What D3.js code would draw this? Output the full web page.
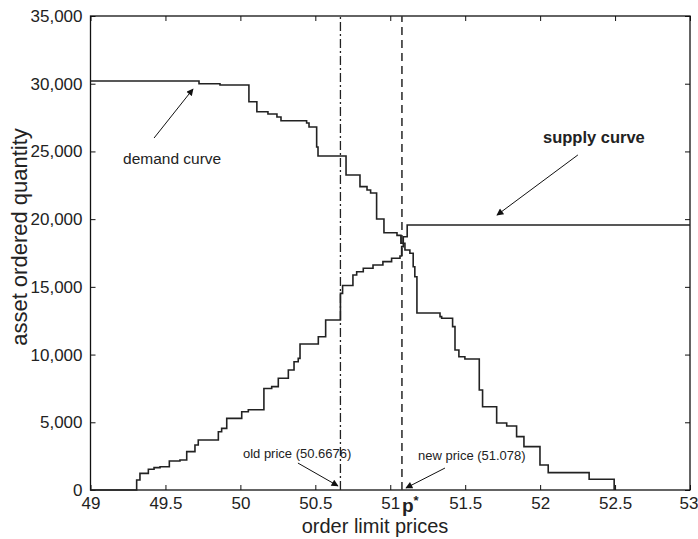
<!DOCTYPE html>
<html>
<head>
<meta charset="utf-8">
<script src="https://cdn.jsdelivr.net/npm/d3@7"></script>
<style>
  body { margin: 0; background: #fff; }
  text { font-family: "Liberation Sans", Arial, sans-serif; fill: #222; }
</style>
</head>
<body>
<svg id="chart" width="698" height="539"></svg>
<script>
// order book: price -> cumulative quantity (step after)
const demandPrice = [49.0, 49.724, 49.864, 50.057, 50.110, 50.184, 50.244, 50.271, 50.442, 50.458,
  50.509, 50.518, 50.705, 50.798, 50.845, 50.869, 50.909, 50.958, 51.045, 51.071,
  51.098, 51.131, 51.153, 51.164, 51.178, 51.332, 51.343, 51.416, 51.432, 51.458,
  51.498, 51.594, 51.616, 51.710, 51.777, 51.843, 51.892, 51.999, 52.054, 52.327, 52.494]
const demandQty = [30200, 30000, 29900, 28670, 27930, 27760, 27540, 27270, 27100, 26800,
  25330, 24660, 23260, 22400, 22150, 21930, 20010, 19000, 18800, 18220,
  17720, 17480, 16490, 15750, 13070, 12800, 12680, 12060, 10340, 9840,
  9670, 7380, 6150, 4950, 4730, 3940, 3200, 1850, 1280, 790, 0]

const supplyPrice = [49.0, 49.308, 49.330, 49.386, 49.424, 49.464, 49.526, 49.597, 49.642, 49.697,
  49.719, 49.853, 49.875, 49.909, 50.009, 50.053, 50.157, 50.209, 50.253, 50.320,
  50.358, 50.386, 50.398, 50.520, 50.569, 50.6676, 50.682, 50.751, 50.776, 50.820,
  50.885, 50.951, 51.009, 51.065, 51.076, 51.087, 51.113, 53.0]
const supplyQty = [0, 740, 1230, 1530, 1650, 1720, 2140, 2220, 2830, 3320,
  3690, 4300, 4550, 5290, 5780, 5930, 7500, 7630, 8250, 8860,
  9470, 9720, 10780, 11320, 12550, 14520, 15100, 15880, 16120, 16370,
  16610, 16860, 17110, 17280, 17970, 18700, 19570, 19570]

const oldPrice = 50.6676
const newPrice = 51.078

const xTicks = [49, 49.5, 50, 50.5, 51, 51.5, 52, 52.5, 53]
const yTicks = [0, 5000, 10000, 15000, 20000, 25000, 30000, 35000]

const svg = d3.select('#chart')
const x = d3.scaleLinear().domain([49, 53]).range([90.5, 690])
const y = d3.scaleLinear().domain([0, 35000]).range([490, 16])

const toPts = (px, qs) => px.map((p, i) => [p, qs[i]])

// arrowhead
svg.append('defs').append('marker')
  .attr('id', 'arrow')
  .attr('viewBox', '0 0 10 10')
  .attr('refX', 9).attr('refY', 5)
  .attr('markerWidth', 9).attr('markerHeight', 7)
  .attr('markerUnits', 'userSpaceOnUse')
  .attr('orient', 'auto')
  .append('path').attr('d', 'M0,0L10,5L0,10z').attr('fill', '#111')

// axes (MATLAB style, ticks pointing in)
const axisStyle = (g) => {
  g.select('.domain').remove()
  g.selectAll('line').attr('stroke', '#111')
  g.selectAll('text').attr('font-size', 17).attr('fill', '#222')
}
const xAxis = svg.append('g').attr('transform', `translate(0,${y(0)})`)
  .call(d3.axisBottom(x).tickValues(xTicks).tickSizeInner(-5).tickSizeOuter(0).tickPadding(7).tickFormat(d3.format('')))
  .call(axisStyle)
// last label sits against the right edge, as in the original
xAxis.selectAll('.tick text').filter((d) => d === 53).attr('text-anchor', 'end').attr('dx', 8)

svg.append('g').attr('transform', `translate(0,${y(35000)})`)
  .call(d3.axisTop(x).tickValues(xTicks).tickSizeInner(-5).tickSizeOuter(0).tickFormat(''))
  .call(axisStyle)
svg.append('g').attr('transform', `translate(${x(49)},0)`)
  .call(d3.axisLeft(y).tickValues(yTicks).tickSizeInner(-5).tickSizeOuter(0).tickPadding(8).tickFormat(d3.format(',')))
  .call(axisStyle)
svg.append('g').attr('transform', `translate(${x(53)},0)`)
  .call(d3.axisRight(y).tickValues(yTicks).tickSizeInner(-5).tickSizeOuter(0).tickFormat(''))
  .call(axisStyle)

svg.append('rect')
  .attr('x', x(49)).attr('y', y(35000))
  .attr('width', x(53) - x(49)).attr('height', y(0) - y(35000))
  .attr('fill', 'none').attr('stroke', '#111').attr('stroke-width', 1.3)

// price lines
svg.append('line')
  .attr('x1', x(oldPrice)).attr('x2', x(oldPrice))
  .attr('y1', y(0)).attr('y2', y(35000))
  .attr('stroke', '#222').attr('stroke-width', 1.3)
  .attr('stroke-dasharray', '9,3,2,3')
svg.append('line')
  .attr('x1', x(newPrice)).attr('x2', x(newPrice))
  .attr('y1', y(0)).attr('y2', y(35000))
  .attr('stroke', '#333').attr('stroke-width', 1.6)
  .attr('stroke-dasharray', '8,5')

const step = d3.line()
  .x((d) => x(d[0]))
  .y((d) => y(d[1]))
  .curve(d3.curveStepAfter)

svg.append('path').datum(toPts(demandPrice, demandQty))
  .attr('d', step).attr('fill', 'none')
  .attr('stroke', '#222').attr('stroke-width', 1.6)
svg.append('path').datum(toPts(supplyPrice, supplyQty))
  .attr('d', step).attr('fill', 'none')
  .attr('stroke', '#222').attr('stroke-width', 1.6)

// annotations, placed in data units
const arrows = [
  [[49.424, 25990], [49.684, 29610]],
  [[52.252, 24740], [51.712, 20300]],
  [[50.384, 1990], [50.651, 300]],
  [[51.365, 1620], [51.105, 150]]
]
svg.selectAll('.arrow').data(arrows).join('line')
  .attr('class', 'arrow')
  .attr('x1', (d) => x(d[0][0])).attr('y1', (d) => y(d[0][1]))
  .attr('x2', (d) => x(d[1][0])).attr('y2', (d) => y(d[1][1]))
  .attr('stroke', '#111').attr('stroke-width', 1)
  .attr('marker-end', 'url(#arrow)')

const labels = [
  { p: 49.217, q: 24070, text: 'demand curve', size: 15.5, weight: 'normal' },
  { p: 52.019, q: 25620, text: 'supply curve', size: 16.5, weight: 'bold' },
  { p: 50.017, q: 2360, text: 'old price (50.6676)', size: 13, weight: 'normal' },
  { p: 51.185, q: 2215, text: 'new price (51.078)', size: 13, weight: 'normal' }
]
svg.selectAll('.note').data(labels).join('text')
  .attr('class', 'note')
  .attr('x', (d) => x(d.p)).attr('y', (d) => y(d.q))
  .attr('font-size', (d) => d.size)
  .attr('font-weight', (d) => d.weight)
  .text((d) => d.text)

// p* under the axis
const pstar = svg.append('text')
  .attr('x', x(newPrice)).attr('y', 512)
  .attr('font-size', 19).attr('font-weight', 'bold')
pstar.append('tspan').text('p')
pstar.append('tspan').attr('dy', -7).attr('font-size', 13).text('*')

// axis titles
svg.append('text')
  .attr('x', 375).attr('y', 533)
  .attr('text-anchor', 'middle').attr('font-size', 20)
  .text('order limit prices')
svg.append('text')
  .attr('transform', 'translate(27,237) rotate(-90)')
  .attr('text-anchor', 'middle').attr('font-size', 22)
  .text('asset ordered quantity')
</script>
</body>
</html>
